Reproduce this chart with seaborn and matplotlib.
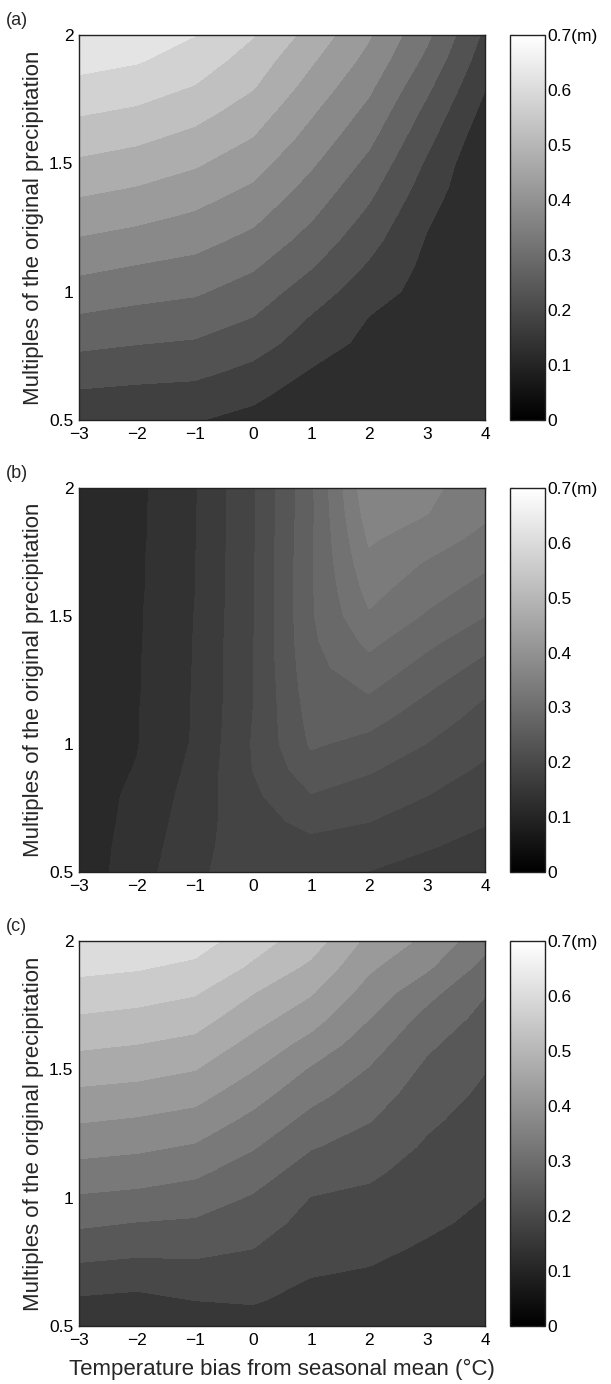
import numpy as np
import matplotlib
matplotlib.use("Agg")
import matplotlib.pyplot as plt
from matplotlib.colors import Normalize
from matplotlib.cm import ScalarMappable
import seaborn as sns

# ---------------- data ----------------
temp_bias = [-3, -2, -1, 0, 1, 2, 3, 4]
precip_mult = [0.5, 0.6, 0.7, 0.8, 0.9, 1.0, 1.1, 1.2, 1.3, 1.4, 1.5, 1.6, 1.7, 1.8, 1.9, 2.0]

# each inner list: one temperature bias column, values along precip_mult (0.5 -> 2.0)
depth_a = [
    [0.159, 0.193, 0.227, 0.261, 0.295, 0.329, 0.362, 0.395, 0.427, 0.460, 0.492, 0.523, 0.555, 0.586, 0.617, 0.648],
    [0.155, 0.187, 0.220, 0.252, 0.284, 0.316, 0.348, 0.381, 0.414, 0.446, 0.478, 0.510, 0.542, 0.573, 0.604, 0.635],
    [0.153, 0.183, 0.215, 0.245, 0.276, 0.306, 0.336, 0.366, 0.395, 0.425, 0.456, 0.486, 0.517, 0.548, 0.577, 0.601],
    [0.134, 0.162, 0.191, 0.220, 0.2495, 0.278, 0.306, 0.336, 0.364, 0.392, 0.420, 0.449, 0.476, 0.504, 0.527, 0.553],
    [0.105, 0.124, 0.149, 0.178, 0.197, 0.224, 0.254, 0.281, 0.307, 0.332, 0.357, 0.382, 0.406, 0.432, 0.456, 0.482],
    [0.103, 0.113, 0.124, 0.136, 0.149, 0.172, 0.194, 0.217, 0.240, 0.263, 0.287, 0.312, 0.336, 0.360, 0.384, 0.405],
    [0.102, 0.108, 0.114, 0.120, 0.126, 0.132, 0.138, 0.146, 0.158, 0.176, 0.193, 0.214, 0.236, 0.261, 0.287, 0.310],
    [0.101, 0.101, 0.102, 0.102, 0.102, 0.103, 0.103, 0.103, 0.104, 0.104, 0.105, 0.118, 0.135, 0.153, 0.172, 0.190],
]

depth_b = [
    [0.112, 0.113, 0.114, 0.115, 0.115, 0.113, 0.112, 0.111, 0.110, 0.110, 0.109, 0.109, 0.108, 0.108, 0.107, 0.107],
    [0.137, 0.134, 0.131, 0.129, 0.126, 0.124, 0.124, 0.123, 0.123, 0.122, 0.122, 0.121, 0.121, 0.120, 0.120, 0.119],
    [0.173, 0.169, 0.165, 0.161, 0.157, 0.153, 0.152, 0.152, 0.1515, 0.1512, 0.1506, 0.1498, 0.1494, 0.149, 0.1485, 0.148],
    [0.181, 0.186, 0.190, 0.195, 0.2005, 0.202, 0.2005, 0.199, 0.199, 0.199, 0.198, 0.198, 0.198, 0.197, 0.197, 0.197],
    [0.182, 0.192, 0.208, 0.224, 0.240, 0.253, 0.258, 0.263, 0.267, 0.270, 0.272, 0.272, 0.272, 0.271, 0.270, 0.270],
    [0.1745, 0.1875, 0.2007, 0.214, 0.2275, 0.2425, 0.258, 0.2755, 0.291, 0.306, 0.322, 0.333, 0.343, 0.353, 0.363, 0.370],
    [0.165, 0.177, 0.1885, 0.2003, 0.212, 0.2245, 0.237, 0.2502, 0.2656, 0.281, 0.297, 0.310, 0.322, 0.336, 0.3505, 0.356],
    [0.158, 0.167, 0.177, 0.1865, 0.196, 0.206, 0.216, 0.227, 0.242, 0.258, 0.2752, 0.290, 0.304, 0.318, 0.329, 0.335],
]

depth_c = [
    [0.136, 0.169, 0.2036, 0.238, 0.272, 0.305, 0.338, 0.371, 0.403, 0.4345, 0.4665, 0.4986, 0.5303, 0.561, 0.592, 0.623],
    [0.135, 0.163, 0.197, 0.231, 0.263, 0.298, 0.3315, 0.364, 0.395, 0.428, 0.4596, 0.4906, 0.522, 0.553, 0.585, 0.6156],
    [0.147, 0.1753, 0.203, 0.2306, 0.2584, 0.2878, 0.3184, 0.3508, 0.3828, 0.4146, 0.4463, 0.478, 0.5089, 0.5393, 0.5703, 0.6007],
    [0.158, 0.1785, 0.199, 0.2198, 0.2402, 0.2605, 0.2865, 0.3142, 0.3423, 0.3717, 0.402, 0.431, 0.4622, 0.4918, 0.5284, 0.553],
    [0.1485, 0.1625, 0.1765, 0.1906, 0.2047, 0.2187, 0.243, 0.2685, 0.2956, 0.3228, 0.3501, 0.3848, 0.418, 0.4494, 0.481, 0.512],
    [0.151, 0.161, 0.171, 0.1836, 0.1973, 0.2109, 0.2272, 0.2471, 0.2668, 0.287, 0.3072, 0.3311, 0.3563, 0.382, 0.4075, 0.4325],
    [0.141, 0.149, 0.159, 0.170, 0.1813, 0.1923, 0.2033, 0.2143, 0.2269, 0.2413, 0.2557, 0.2731, 0.2956, 0.3246, 0.3625, 0.390],
    [0.135, 0.143, 0.151, 0.159, 0.167, 0.1748, 0.1843, 0.1934, 0.2026, 0.2117, 0.2215, 0.2365, 0.2515, 0.2679, 0.2967, 0.3256],
]

levels_a = [0.10, 0.15, 0.20, 0.25, 0.30, 0.35, 0.40, 0.45, 0.50, 0.55, 0.60, 0.65]
levels_b = [0.100, 0.125, 0.150, 0.175, 0.200, 0.225, 0.250, 0.275, 0.300, 0.325, 0.350, 0.375]
levels_c = [0.130, 0.175, 0.220, 0.265, 0.310, 0.355, 0.400, 0.445, 0.490, 0.535, 0.580, 0.625]

panel_labels = ["(a)", "(b)", "(c)"]
ytick_vals = [0.5, 1.0, 1.5, 2.0]
ytick_text = ["0.5", "1", "1.5", "2"]
cbar_ticks = [0, 0.1, 0.2, 0.3, 0.4, 0.5, 0.6, 0.7]
cbar_text = ["0", "0.1", "0.2", "0.3", "0.4", "0.5", "0.6", "0.7(m)"]
ylabel_text = "Multiples of the original precipitation"
xlabel_text = "Temperature bias from seasonal mean (\u00b0C)"

# ---------------- style ----------------
sns.set_style("white")
plt.rcParams["font.family"] = ["Liberation Sans", "DejaVu Sans"]
plt.rcParams["axes.linewidth"] = 1.0

cmap = sns.color_palette("gray", as_cmap=True)

W, H = 611, 1384
fig = plt.figure(figsize=(W / 100, H / 100), dpi=100)

# vertical pixel extents of the three panels (top, bottom)
extents = [(35, 420), (488, 872), (941, 1326)]
datasets = [depth_a, depth_b, depth_c]
level_sets = [levels_a, levels_b, levels_c]
tick_fs = 12.5

for i in range(3):
    top, bot = extents[i]
    norm = Normalize(vmin=0.0, vmax=0.7)
    ax = fig.add_axes([79 / W, 1 - bot / H, 406 / W, (bot - top) / H])
    Z = np.array(datasets[i]).T
    ax.contourf(temp_bias, precip_mult, Z, levels=level_sets[i], cmap=cmap, norm=norm)
    ax.set_xlim(-3, 4)
    ax.set_ylim(0.5, 2.0)
    ax.set_xticks(temp_bias)
    ax.set_yticks(ytick_vals)
    ax.set_yticklabels(ytick_text)
    ax.tick_params(direction="in", top=True, right=True, length=3.5, width=0.8,
                   labelsize=tick_fs, colors="#222222", labelcolor="black")
    ax.tick_params(axis="x", pad=5)
    ax.tick_params(axis="y", pad=4)
    for sp in ax.spines.values():
        sp.set_color("#222222")
        sp.set_linewidth(1.0)
    ax.set_ylabel(ylabel_text, fontsize=16, labelpad=4)
    if i == 2:
        ax.set_xlabel(xlabel_text, fontsize=16, labelpad=8)
    fig.text(6 / W, 1 - (top - 6) / H, panel_labels[i], fontsize=13, ha="left", va="bottom")

    cnorm = Normalize(vmin=0.0, vmax=0.7)
    cax = fig.add_axes([510 / W, 1 - bot / H, 35 / W, (bot - top) / H])
    cb = fig.colorbar(ScalarMappable(norm=cnorm, cmap=cmap), cax=cax)
    cb.set_ticks(cbar_ticks, labels=cbar_text)
    cb.outline.set_edgecolor("#222222")
    cb.outline.set_linewidth(1.0)
    cax.tick_params(direction="in", left=True, right=True, length=3, width=0.8,
                    labelsize=tick_fs, pad=2, colors="#222222", labelcolor="black")

fig.savefig("out.png", dpi=100)
